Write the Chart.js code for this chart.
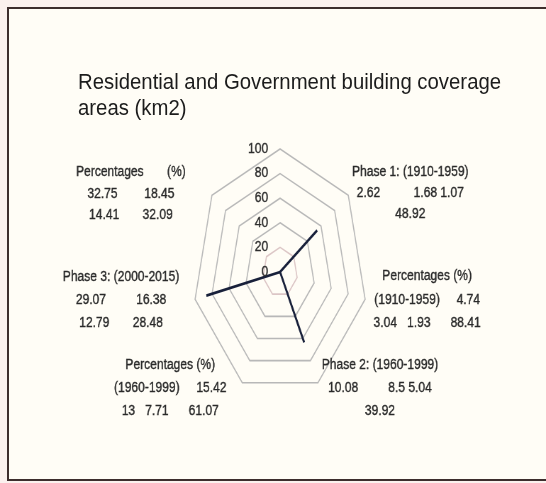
<!DOCTYPE html>
<html>
<head>
<meta charset="utf-8">
<script src="https://cdn.jsdelivr.net/npm/chart.js@4.4.1/dist/chart.umd.min.js"></script>
<style>
  html, body { margin: 0; padding: 0; }
  body { width: 546px; height: 483px; overflow: hidden; position: relative; background: #fbf1ee; }
  #frame {
    position: absolute; left: 7px; top: 7px; width: 600px; height: 470px;
    border: 2px solid #3d2d2d; background: #fffdf6;
  }
  #title {
    position: absolute; left: 78px; top: 69px; white-space: nowrap;
    font-family: "Liberation Sans", Arial, sans-serif; font-size: 22px; line-height: 26px;
    color: #1c1c1c; transform: scaleX(0.925); transform-origin: 0 0; z-index: 2;
  }
  #chart { position: absolute; left: 0; top: 0; z-index: 1; }
</style>
</head>
<body>
<div id="frame"></div>
<div id="title">Residential and Government building coverage<br>areas (km2)</div>
<canvas id="chart" width="770" height="483" style="width:546px;height:483px"></canvas>
<script>
// one text block per spoke, top spoke has no label
var categories = [
  [],
  ["Phase 1: (1910-1959)", "2.62          1.68 1.07", "48.92"],
  ["Percentages (%)", "(1910-1959)     4.74", "3.04   1.93      88.41"],
  ["Phase 2: (1960-1999)", "10.08         8.5 5.04", "39.92"],
  ["Percentages (%)", "(1960-1999)     15.42", "13   7.71      61.07"],
  ["Phase 3: (2000-2015)", "29.07         16.38", "12.79       28.48"],
  ["Percentages       (%)", "32.75        18.45", "14.41       32.09"]
];
var coverage = [0, 54.29, 0, 63.54, 0, 86.72, 0];
var tickValues = [0, 20, 40, 60, 80, 100];

// where each text block sits relative to its spoke tip (screen px)
var blockOffsets = [
  [0, 0], [62, -23], [62, -23], [62, -18], [-72, -18], [-74, -22], [-81, -23]
];
var lineGap = [0, 21, 23.5, 23, 23, 23, 21.5];

var narrow = 0.86; // text is drawn a little condensed

function drawText(ctx, sx, text, x, y, align, font, color) {
  ctx.save();
  ctx.translate(x / sx, y);
  ctx.scale(narrow / sx, 1);
  ctx.font = font;
  ctx.fillStyle = color;
  ctx.strokeStyle = color;
  ctx.lineWidth = 0.35;
  ctx.textAlign = align;
  ctx.textBaseline = 'middle';
  ctx.fillText(text, 0, 0);
  ctx.strokeText(text, 0, 0);
  ctx.restore();
}

// the canvas is shown narrower than it is drawn, so text gets stretched back here
var spokeText = {
  id: 'spokeText',
  afterDraw: function(chart) {
    var ctx = chart.ctx;
    var r = chart.scales.r;
    var sx = chart.canvas.clientWidth / chart.width;
    var font = '14px "Liberation Sans", Arial, sans-serif';

    r.ticks.forEach(function(t) {
      var y = r.yCenter - r.getDistanceFromCenterForValue(t.value);
      drawText(ctx, sx, String(t.value), r.xCenter * sx - 12, y, 'right', font, '#2e2e2e');
    });

    categories.forEach(function(lines, i) {
      var p = r.getPointPosition(i, r.drawingArea);
      var x = p.x * sx + blockOffsets[i][0];
      var y = p.y + blockOffsets[i][1];
      lines.forEach(function(line, k) {
        drawText(ctx, sx, line, x, y + k * lineGap[i], 'center', font, '#2a2a2a');
      });
    });
  }
};

var ctx = document.getElementById('chart').getContext('2d');
var chart = new Chart(ctx, {
  type: 'radar',
  data: {
    labels: categories,
    datasets: [{
      data: coverage,
      borderColor: '#18203a',
      borderWidth: 2.8,
      backgroundColor: 'rgba(0,0,0,0)',
      fill: false,
      pointRadius: 0,
      pointHoverRadius: 0,
      tension: 0
    }]
  },
  options: {
    responsive: false,
    maintainAspectRatio: false,
    devicePixelRatio: 1,
    animation: false,
    layout: { padding: { top: 149, bottom: 88, left: 272, right: 252 } },
    plugins: { legend: { display: false }, tooltip: { enabled: false } },
    scales: {
      r: {
        min: tickValues[0],
        max: tickValues[tickValues.length - 1],
        ticks: { stepSize: 20, display: false },
        angleLines: { display: false },
        pointLabels: { display: false },
        grid: {
          lineWidth: 1.6,
          color: function(c) { return c.tick && c.tick.value === 20 ? '#dcc6c6' : '#b8b8b8'; }
        }
      }
    }
  },
  plugins: [spokeText]
});
</script>
</body>
</html>
